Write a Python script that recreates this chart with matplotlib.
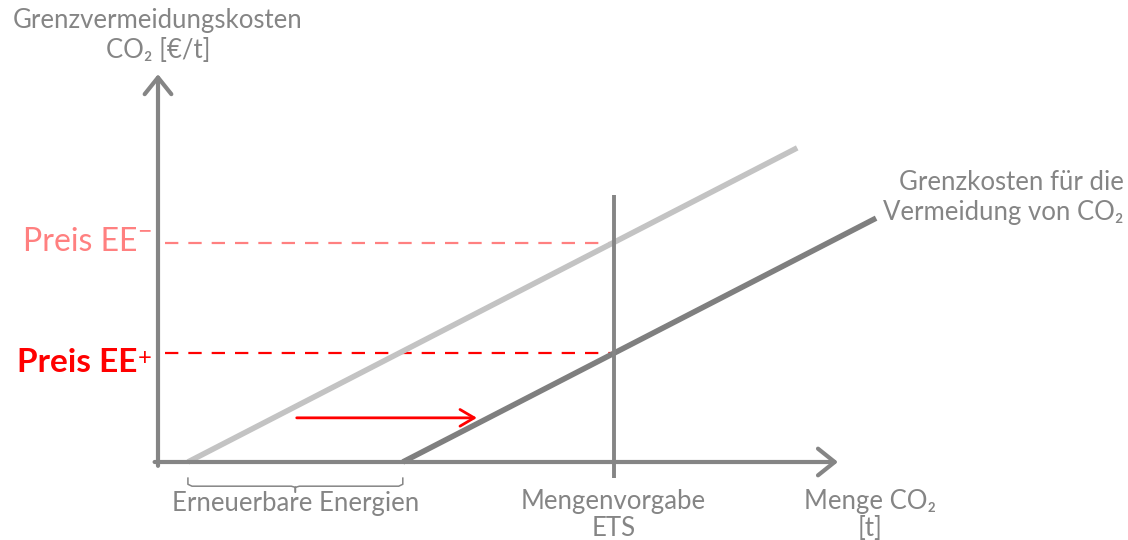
import matplotlib
matplotlib.use("Agg")
import matplotlib.pyplot as plt

plt.rcParams['font.family'] = ['Lato', 'Noto Sans', 'DejaVu Sans']

# Marginal abatement cost curves (quantity in %, cost in relative units)
curve_without_ee_x = [4.4, 94.0]
curve_without_ee_y = [0.0, 81.8]
curve_with_ee_x = [36.0, 105.6]
curve_with_ee_y = [0.0, 63.5]

ets_cap = 67.0
price_ee_minus = 57.0
price_ee_plus = 28.4

x_axis_end = 100.0
y_axis_end = 101.0

GRAY = '#858585'
LIGHT = '#c3c3c3'
DARK = '#7f7f7f'
RED = '#ff0000'
PINK = '#ff8080'

# pixel scale: 6.8 px per x unit, 3.84 px per y unit, origin at (158, 462)
fig = plt.figure(figsize=(11.28, 5.40), dpi=100)
ax = fig.add_axes([0, 0, 1, 1])
ax.set_xlim(-158 / 6.8, (1128 - 158) / 6.8)
ax.set_ylim(-(540 - 462) / 3.84, 462 / 3.84)
ax.axis('off')

# price lines
ax.plot([1.0, ets_cap], [price_ee_minus, price_ee_minus], color=PINK, lw=1.6,
        dashes=(6, 4.5), solid_capstyle='butt')
ax.plot([1.0, ets_cap], [price_ee_plus, price_ee_plus], color=RED, lw=1.6,
        dashes=(6, 4.5), solid_capstyle='butt')

# cost curves
ax.plot(curve_without_ee_x, curve_without_ee_y, color=LIGHT, lw=4, solid_capstyle='butt')
ax.plot(curve_with_ee_x, curve_with_ee_y, color=DARK, lw=4, solid_capstyle='butt')

# ETS cap
ax.plot([ets_cap, ets_cap], [-4.2, 69.5], color=GRAY, lw=2.8, solid_capstyle='butt')

# axes with open arrow heads
axis_head = '->,head_length=0.4,head_width=0.32'
ax.annotate('', xy=(0, y_axis_end), xytext=(0, -1.0),
            arrowprops=dict(arrowstyle=axis_head, color=GRAY, lw=3,
                            mutation_scale=30, shrinkA=0, shrinkB=0))
ax.annotate('', xy=(x_axis_end, 0), xytext=(-0.5, 0),
            arrowprops=dict(arrowstyle=axis_head, color=GRAY, lw=3,
                            mutation_scale=30, shrinkA=0, shrinkB=0))

# shift arrow
ax.annotate('', xy=(46.9, 11.5), xytext=(20.4, 11.5),
            arrowprops=dict(arrowstyle='->,head_length=0.34,head_width=0.2',
                            color=RED, lw=2, mutation_scale=30,
                            shrinkA=0, shrinkB=0))

# brace under the renewable shift
bx0, bx1 = curve_without_ee_x[0], curve_with_ee_x[0]
bm = (bx0 + bx1) / 2
ytop, ymid, ybot = -4.2, -6.3, -7.9
ax.plot([bx0, bx0, bx0 + 0.6, bm - 0.6, bm, bm, bm, bm + 0.6, bx1 - 0.6, bx1, bx1],
        [ytop, ymid + 0.5, ymid, ymid, ymid - 0.3, ybot, ymid - 0.3, ymid, ymid, ymid + 0.5, ytop],
        color=GRAY, lw=1.1)

fs = 18.5
ax.text(0, 115.0, 'Grenzvermeidungskosten', ha='center', va='center', fontsize=fs, color=GRAY)
ax.text(0, 107.2, 'CO₂ [€/t]', ha='center', va='center', fontsize=fs, color=GRAY)

# price labels with raised sign
ax.text(-3.0, price_ee_minus + 0.3, 'Preis EE', ha='right', va='center', fontsize=23,
        color=PINK)
ax.text(-3.0, 58.4, '\u2212', ha='left', va='baseline', fontsize=18, color=PINK)
ax.text(-3.0, price_ee_plus - 2.6, 'Preis EE', ha='right', va='center', fontsize=24,
        color=RED, fontweight='bold')
ax.text(-3.0, 25.3, '+', ha='left', va='baseline', fontsize=17, color=RED)

ax.text(bm, -10.7, 'Erneuerbare Energien', ha='center', va='center', fontsize=fs, color=GRAY)
ax.text(ets_cap, -10.3, 'Mengenvorgabe', ha='center', va='center', fontsize=fs, color=GRAY)
ax.text(ets_cap, -17.4, 'ETS', ha='center', va='center', fontsize=fs, color=GRAY)
ax.text(104.7, -10.3, 'Menge CO₂', ha='center', va='center', fontsize=fs, color=GRAY)
ax.text(104.7, -17.4, '[t]', ha='center', va='center', fontsize=fs, color=GRAY)

ax.text(142.0, 72.9, 'Grenzkosten für die', ha='right', va='center', fontsize=fs, color=GRAY)
ax.text(142.0, 65.1, 'Vermeidung von CO₂', ha='right', va='center', fontsize=fs, color=GRAY)

fig.savefig('out.png', dpi=100, facecolor='white')
